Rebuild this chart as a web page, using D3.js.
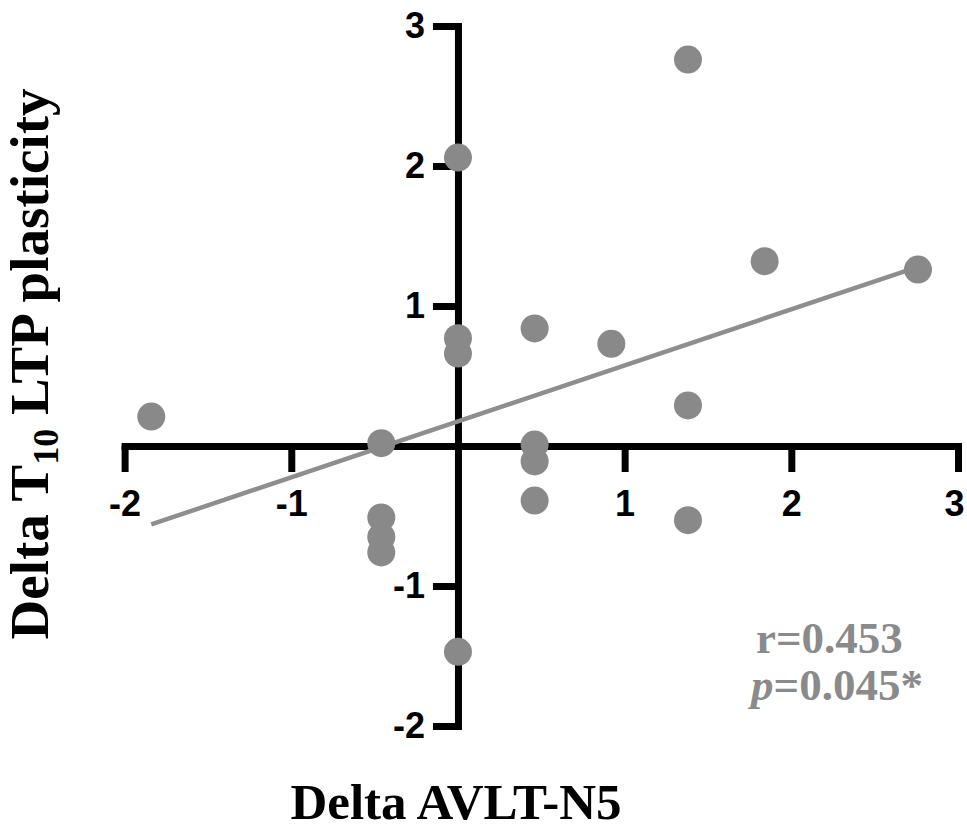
<!DOCTYPE html>
<html>
<head>
<meta charset="utf-8">
<script src="https://cdn.jsdelivr.net/npm/d3@7/dist/d3.min.js"></script>
<style>
  html, body { margin: 0; padding: 0; background: #fff; }
  svg { display: block; }
</style>
</head>
<body>
<svg id="chart" width="967" height="831"></svg>
<script>
// Data
const xVals = [-1.84, -0.46, -0.46, -0.46, -0.46, 0, 0, 0, 0, 0.46, 0.46, 0.46, 0.46, 0.92, 1.38, 1.38, 1.38, 1.84, 2.76];
const yVals = [0.21, 0.02, -0.51, -0.65, -0.76, 2.06, 0.77, 0.66, -1.47, 0.84, 0.01, -0.11, -0.39, 0.73, 2.76, 0.29, -0.53, 1.32, 1.26];
const fitX = [-1.84, 2.76];
const fitY = [-0.56, 1.28];
const xTicks = [-2, -1, 1, 2, 3];
const yTicks = [-2, -1, 1, 2, 3];
const statR = "r=0.453";
const statP = "=0.045*";

const svg = d3.select("#chart");
const x = d3.scaleLinear().domain([-2, 3]).range([124.6, 958]);
const y = d3.scaleLinear().domain([-2, 3]).range([726, 26]);

const grey = "#898989";

// X axis through y=0
const xAxis = svg.append("g")
  .attr("transform", `translate(0,${y(0)})`)
  .call(d3.axisBottom(x).tickValues(xTicks).tickSize(26).tickSizeOuter(0).tickPadding(18).tickFormat(d3.format("d")));
// Y axis through x=0
const yAxis = svg.append("g")
  .attr("transform", `translate(${x(0)},0)`)
  .call(d3.axisLeft(y).tickValues(yTicks).tickSize(25).tickSizeOuter(0).tickPadding(8).tickFormat(d3.format("d")));

[xAxis, yAxis].forEach(g => {
  g.select(".domain").attr("stroke", "#000").attr("stroke-width", 7).attr("stroke-linecap", "square");
  g.selectAll(".tick line").attr("stroke", "#000").attr("stroke-width", 7);
  g.selectAll(".tick text")
    .attr("fill", "#000")
    .style("font-family", "'Liberation Sans', Arial, sans-serif")
    .style("font-weight", "bold")
    .style("font-size", "36px")
    .text(d => d < 0 ? "-" + Math.abs(d) : d);
});
// keep the last x label inside the page
xAxis.selectAll(".tick text").filter(d => d === 3).attr("dx", -4);

// Fit line
svg.append("line")
  .attr("x1", x(fitX[0])).attr("y1", y(fitY[0]))
  .attr("x2", x(fitX[1])).attr("y2", y(fitY[1]))
  .attr("stroke", "#8e8e8e").attr("stroke-width", 4.5);

// Points
svg.append("g").selectAll("circle")
  .data(xVals.map((v, i) => [v, yVals[i]]))
  .join("circle")
  .attr("cx", d => x(d[0]))
  .attr("cy", d => y(d[1]))
  .attr("r", 14)
  .attr("fill", grey);

// Stats text
const serif = "'Liberation Serif', 'Times New Roman', serif";
svg.append("text")
  .attr("x", 756).attr("y", 653)
  .attr("fill", "#8a8a8a")
  .style("font-family", serif).style("font-weight", "bold").style("font-size", "45px")
  .text(statR);
const pt = svg.append("text")
  .attr("x", 751).attr("y", 700)
  .attr("fill", "#8a8a8a")
  .style("font-family", serif).style("font-weight", "bold").style("font-size", "45px");
pt.append("tspan").style("font-style", "italic").text("p");
pt.append("tspan").text(statP);

// Axis titles
svg.append("text")
  .attr("x", 456).attr("y", 819)
  .attr("text-anchor", "middle")
  .attr("fill", "#000")
  .style("font-family", serif).style("font-weight", "bold").style("font-size", "51px")
  .text("Delta AVLT-N5");

const yt = svg.append("text")
  .attr("transform", "translate(48,364) rotate(-90)")
  .attr("text-anchor", "middle")
  .attr("fill", "#000")
  .style("font-family", serif).style("font-weight", "bold").style("font-size", "55px");
yt.append("tspan").text("Delta T");
yt.append("tspan").attr("dy", 10).style("font-size", "36px").text("10");
yt.append("tspan").attr("dy", -10).text(" LTP plasticity");
</script>
</body>
</html>
